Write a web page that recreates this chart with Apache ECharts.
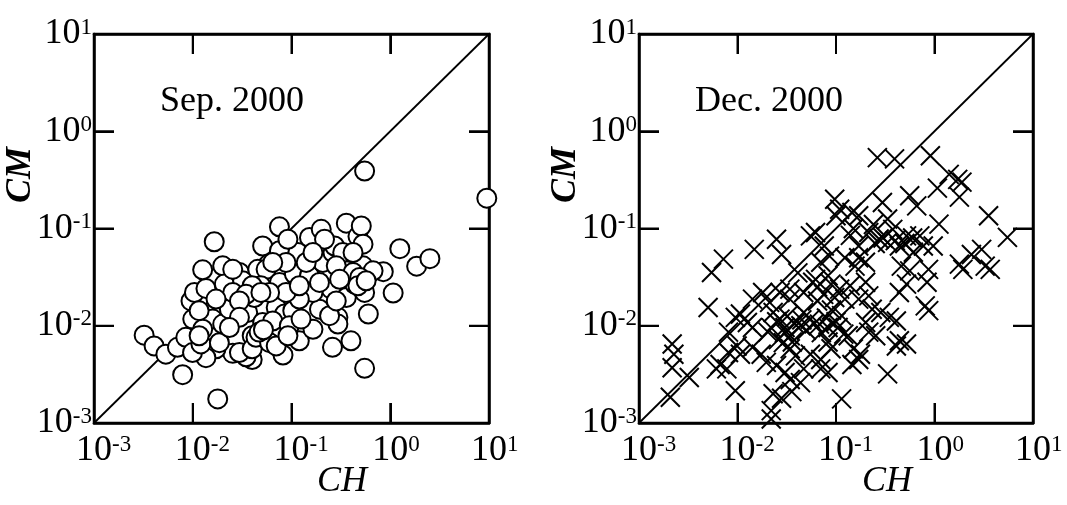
<!DOCTYPE html>
<html><head><meta charset="utf-8">
<script src="https://cdn.jsdelivr.net/npm/echarts@6/dist/echarts.min.js"></script>
<style>html,body{margin:0;padding:0;background:#fff}#c{width:1067px;height:505px}</style>
</head><body><div id="c"></div>
<script>
// ---- data ----
const sepCH = [0.55,9.5,0.0179,0.0079,0.55,0.00322,0.00406,0.00534,0.0070,0.0085,0.0165,1.25,1.85,2.52,1.07,0.85,0.6,0.40,0.26,0.082,0.12,0.165,0.0786,0.040,0.0347,0.0254,0.0172,0.0136,0.00995,0.0121,0.0186,0.01,0.0096,0.0104,0.0136,0.0126,0.0201,0.0165,0.0159,0.0201,0.0235,0.0209,0.0297,0.032,0.036,0.042,0.051,0.0455,0.0553,0.049,0.051,0.040,0.0755,0.0755,0.0755,0.070,0.085,0.116,0.107,0.107,0.103,0.152,0.152,0.2,0.208,0.192,0.263,0.253,0.295,0.295,0.359,0.359,0.359,0.471,0.509,0.53,0.53,0.55,0.67,0.436,0.273,0.33,0.42,0.0254,0.0254,0.0116,0.0126,0.0116,0.0297,0.040,0.0437,0.06,0.070,0.0646,0.095,0.092,0.125,0.165,0.12,0.088,0.06,0.040,0.0347,0.0297,0.0297,0.0235,0.141,0.088,0.0646,0.12,0.284,0.42,0.49,0.47,0.57,0.243,0.284,0.192,0.307,0.216,0.165,0.092,0.049,0.0172,0.047,0.052];
const sepCM = [0.39,0.205,0.00177,0.00314,0.00365,0.0080,0.0062,0.0051,0.0060,0.0076,0.073,0.062,0.041,0.049,0.0217,0.036,0.0132,0.0070,0.006,0.005,0.0070,0.0092,0.0082,0.0045,0.0048,0.0052,0.0058,0.0047,0.0053,0.0065,0.0067,0.0117,0.018,0.022,0.0242,0.0376,0.0413,0.0148,0.0117,0.0104,0.0148,0.0268,0.0353,0.029,0.0137,0.0195,0.066,0.038,0.038,0.0258,0.0108,0.0079,0.104,0.059,0.0279,0.0154,0.0132,0.0567,0.034,0.0211,0.0143,0.081,0.0327,0.098,0.0448,0.0148,0.0567,0.0238,0.0122,0.0104,0.1135,0.0367,0.0195,0.083,0.106,0.069,0.0413,0.022,0.0367,0.0268,0.066,0.0567,0.0567,0.038,0.022,0.0143,0.0092,0.0079,0.0053,0.0058,0.0076,0.0067,0.0062,0.0112,0.01,0.0079,0.0117,0.022,0.0188,0.022,0.022,0.0258,0.0211,0.018,0.0122,0.0096,0.0448,0.0448,0.0448,0.0258,0.0413,0.0353,0.0314,0.0258,0.029,0.0127,0.018,0.0279,0.030,0.0776,0.0567,0.0776,0.022,0.0188,0.0086,0.0091];
const decCH = [0.263,0.393,0.908,1.41,1.72,1.9,1.07,1.79,3.54,5.5,3.01,2.37,1.79,1.94,3.68,3.27,1.11,0.66,0.71,0.52,0.44,0.61,0.77,0.377,0.334,0.296,0.56,0.215,0.274,0.334,0.17,0.17,0.156,0.199,0.097,0.109,0.145,0.17,0.1,0.062,0.076,0.086,0.070,0.062,0.083,0.089,0.109,0.097,0.123,0.139,0.17,0.2,0.233,0.285,0.348,0.41,0.2,0.805,0.873,0.87,0.84,0.52,0.56,0.46,0.41,0.334,0.253,0.215,0.15,0.177,0.133,0.105,0.114,0.114,0.07,0.07,0.055,0.055,0.047,0.068,0.083,0.044,0.027,0.0304,0.0343,0.0292,0.0343,0.0387,0.023,0.0212,0.0204,0.0142,0.0174,0.0196,0.0107,0.0126,0.0142,0.0099,0.0107,0.00665,0.0078,0.0095,0.023,0.028,0.022,0.022,0.0356,0.0436,0.0343,0.0249,0.0304,0.047,0.00503,0.00545,0.0072,0.0148,0.0249,0.028,0.055,0.00217,0.00226,0.00217,0.00324,0.00208,0.0061,0.52,0.44,0.145,0.17,0.083,0.215,0.44,0.123,0.041,0.047,0.034,0.034,0.018,0.0142,0.027,0.065,0.071,0.083,0.089,0.0095,0.0081,0.0081,0.15,0.14,0.97,0.24,0.025,0.032,0.038,0.022,0.03,0.026,0.036,0.045,0.05,0.06,0.08,0.09,0.1,0.12,0.065,0.075,0.058,0.3,0.25,0.4,0.5,0.6];
const decCM = [0.535,0.52,0.56,0.36,0.32,0.30,0.26,0.21,0.135,0.081,0.061,0.054,0.043,0.038,0.038,0.041,0.111,0.171,0.084,0.084,0.066,0.057,0.066,0.098,0.125,0.185,0.217,0.091,0.078,0.072,0.066,0.050,0.041,0.045,0.2,0.158,0.146,0.135,0.135,0.091,0.066,0.052,0.045,0.030,0.0327,0.0268,0.0238,0.0195,0.0188,0.0258,0.0188,0.028,0.0148,0.0137,0.0122,0.0112,0.0108,0.016,0.0143,0.038,0.028,0.0268,0.0367,0.041,0.0062,0.0032,0.0079,0.0086,0.0058,0.0051,0.0079,0.0096,0.0127,0.00177,0.0036,0.0045,0.0051,0.0117,0.0137,0.0104,0.0096,0.01,0.0117,0.0096,0.0079,0.0067,0.0058,0.0049,0.0137,0.0174,0.0086,0.006,0.0051,0.0042,0.0132,0.0108,0.0096,0.0062,0.0051,0.004,0.0036,0.00215,0.002,0.0018,0.0011,0.00134,0.0021,0.0026,0.0028,0.0039,0.0033,0.0036,0.0154,0.0353,0.0484,0.061,0.0776,0.054,0.084,0.0065,0.0051,0.0037,0.00294,0.00184,0.0036,0.0065,0.007,0.004,0.0045,0.0033,0.0203,0.022,0.05,0.035,0.022,0.0238,0.0188,0.022,0.0188,0.022,0.018,0.0085,0.0068,0.0058,0.0122,0.0086,0.0053,0.1,0.085,0.066,0.11,0.011,0.0125,0.0105,0.0095,0.0085,0.0072,0.0068,0.0115,0.009,0.0105,0.012,0.0145,0.011,0.0082,0.025,0.021,0.028,0.08,0.07,0.075,0.07,0.08];
const axisMin = 0.001, axisMax = 10;
const tickValues = [0.001, 0.01, 0.1, 1, 10];
const diagonal = [[0.001, 0.001], [10, 10]];
const panelTitles = ['Sep. 2000', 'Dec. 2000'];
const xName = 'CH', yName = 'CM';

// ---- chart ----
const FONT = '"Liberation Serif","Times New Roman",serif';
const zip = (a, b) => a.map((v, i) => [v, b[i]]);
const expOf = v => Math.round(Math.log10(v));
const rich = {
  b: {fontFamily: FONT, fontSize: 36, color: '#000'},
  s: {fontFamily: FONT, fontSize: 23, color: '#000', verticalAlign: 'top'},
  sp: {fontFamily: FONT, fontSize: 23, color: 'rgba(255,255,255,0)', verticalAlign: 'top'}
};
function axis(gridIndex, position, labelKind) {
  const a = {
    type: 'log', logBase: 10, min: axisMin, max: axisMax, gridIndex: gridIndex, position: position,
    axisLine: {show: true, onZero: false, lineStyle: {color: '#000', width: 2.5}},
    axisTick: {show: true, inside: true, length: 20, lineStyle: {color: '#000', width: 2}},
    minorTick: {show: false}, splitLine: {show: false}, minorSplitLine: {show: false},
    axisLabel: {show: false}
  };
  if (labelKind === 'x') a.axisLabel = {show: true, margin: 10, rich: rich,
    formatter: v => { const e = expOf(v); return '{sp|' + e + '}{b|10}{s|' + e + '}'; }};
  if (labelKind === 'y') a.axisLabel = {show: true, margin: 2, rich: rich,
    formatter: v => { const e = expOf(v); return '{b|10}{s|' + e + '}'; }};
  return a;
}
// frame + inside decade ticks on all four sides, placed through the axis scales
function frameRender(params, api) {
  const cs = params.coordSys;
  const v = api.value(0);
  const px = api.coord([v, axisMin])[0];
  const py = api.coord([axisMin, v])[1];
  const L = 20, bottom = cs.y + cs.height, right = cs.x + cs.width;
  const st = {stroke: '#000', lineWidth: 2, fill: null};
  const children = [
    {type: 'line', shape: {x1: px, y1: bottom, x2: px, y2: bottom - L}, style: st},
    {type: 'line', shape: {x1: px, y1: cs.y, x2: px, y2: cs.y + L}, style: st},
    {type: 'line', shape: {x1: cs.x, y1: py, x2: cs.x + L, y2: py}, style: st},
    {type: 'line', shape: {x1: right, y1: py, x2: right - L, y2: py}, style: st}
  ];
  if (params.dataIndex === 0) children.push({type: 'rect', shape: {x: cs.x, y: cs.y, width: cs.width, height: cs.height},
    style: {fill: null, stroke: '#000', lineWidth: 2.5}});
  return {type: 'group', children: children};
}
const tickData = tickValues.map(v => [v, v]);
const option = {
  animation: false,
  grid: [
    {left: 94, top: 34, width: 395, height: 389},
    {left: 639, top: 34, width: 394, height: 389}
  ],
  xAxis: [axis(0, 'bottom', 'x'), axis(0, 'top', null), axis(1, 'bottom', 'x'), axis(1, 'top', null)],
  yAxis: [axis(0, 'left', 'y'), axis(0, 'right', null), axis(1, 'left', 'y'), axis(1, 'right', null)],
  series: [
    {type: 'custom', xAxisIndex: 0, yAxisIndex: 0, data: tickData, renderItem: frameRender, clip: false, silent: true, z: 1},
    {type: 'line', xAxisIndex: 0, yAxisIndex: 0, data: diagonal, symbol: 'none', silent: true, z: 1,
     lineStyle: {color: '#000', width: 1.8}},
    {type: 'scatter', xAxisIndex: 0, yAxisIndex: 0, data: zip(sepCH, sepCM), symbol: 'circle', symbolSize: 19, z: 3,
     itemStyle: {color: '#fff', borderColor: '#000', borderWidth: 2, opacity: 1}},
    {type: 'custom', xAxisIndex: 2, yAxisIndex: 2, data: tickData, renderItem: frameRender, clip: false, silent: true, z: 1},
    {type: 'line', xAxisIndex: 2, yAxisIndex: 2, data: diagonal, symbol: 'none', silent: true, z: 1,
     lineStyle: {color: '#000', width: 1.8}},
    {type: 'scatter', xAxisIndex: 2, yAxisIndex: 2, data: zip(decCH, decCM), symbol: 'path://M0 0L20 20M20 0L0 20', symbolSize: 19, z: 3,
     itemStyle: {color: 'none', borderColor: '#000', borderWidth: 2, opacity: 1}}
  ],
  graphic: [
    {type: 'text', left: 160, top: 84, style: {text: panelTitles[0], font: '36px ' + FONT, fill: '#000'}},
    {type: 'text', left: 695, top: 84, style: {text: panelTitles[1], font: '36px ' + FONT, fill: '#000'}},
    {type: 'text', x: 342, y: 482, style: {text: xName, font: 'italic 36px ' + FONT, fill: '#000', align: 'center', verticalAlign: 'middle'}},
    {type: 'text', x: 887, y: 482, style: {text: xName, font: 'italic 36px ' + FONT, fill: '#000', align: 'center', verticalAlign: 'middle'}},
    {type: 'text', x: 21, y: 175, rotation: Math.PI / 2, style: {text: yName, font: 'italic bold 36px ' + FONT, fill: '#000', align: 'center', verticalAlign: 'middle'}},
    {type: 'text', x: 566, y: 175, rotation: Math.PI / 2, style: {text: yName, font: 'italic bold 36px ' + FONT, fill: '#000', align: 'center', verticalAlign: 'middle'}}
  ]
};
const chart = echarts.init(document.getElementById('c'));
chart.setOption(option);
</script></body></html>
